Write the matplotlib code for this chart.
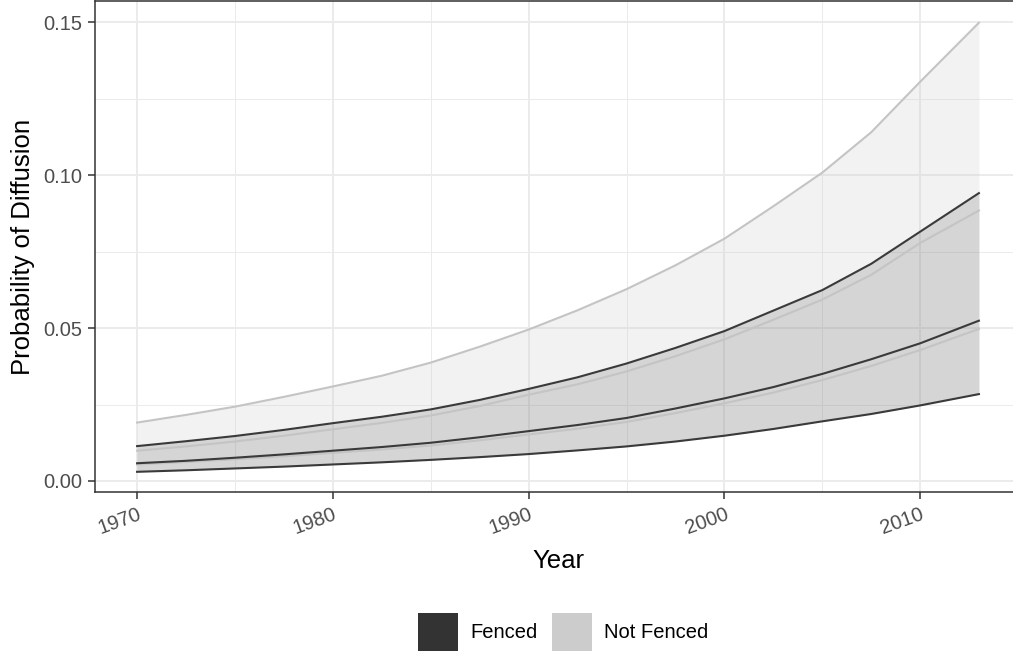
import matplotlib
matplotlib.use("Agg")
import matplotlib.pyplot as plt
from matplotlib.patches import Patch
import numpy as np

plt.rcParams['font.family'] = ['Liberation Sans', 'DejaVu Sans']

# values (every 2.5 years)
years = [1970, 1972.5, 1975, 1977.5, 1980, 1982.5, 1985, 1987.5, 1990,
         1992.5, 1995, 1997.5, 2000, 2002.5, 2005, 2007.5, 2010, 2013]
fenced_lo = [0.0030, 0.0035, 0.0041, 0.0047, 0.0054, 0.0061, 0.0069, 0.0078, 0.0088,
             0.0100, 0.0113, 0.0129, 0.0148, 0.0170, 0.0195, 0.0219, 0.0247, 0.0284]
fenced_mid = [0.0058, 0.0066, 0.0076, 0.0087, 0.0099, 0.0111, 0.0125, 0.0143, 0.0163,
              0.0183, 0.0206, 0.0237, 0.0270, 0.0307, 0.0350, 0.0398, 0.0450, 0.0524]
fenced_hi = [0.0114, 0.0130, 0.0147, 0.0167, 0.0189, 0.0210, 0.0234, 0.0265, 0.0301,
             0.0339, 0.0384, 0.0435, 0.0490, 0.0557, 0.0624, 0.0710, 0.0815, 0.0941]
notfenced_lo = [0.0054, 0.0062, 0.0071, 0.0081, 0.0092, 0.0103, 0.0116, 0.0133, 0.0152,
                0.0171, 0.0193, 0.0222, 0.0254, 0.0289, 0.0330, 0.0376, 0.0428, 0.0497]
notfenced_mid = [0.0099, 0.0113, 0.0129, 0.0148, 0.0169, 0.0190, 0.0214, 0.0245, 0.0282,
                 0.0316, 0.0358, 0.0408, 0.0463, 0.0527, 0.0593, 0.0674, 0.0778, 0.0884]
notfenced_hi = [0.0191, 0.0216, 0.0243, 0.0275, 0.0309, 0.0344, 0.0387, 0.0439, 0.0495,
                0.0558, 0.0627, 0.0705, 0.0792, 0.0898, 0.1008, 0.1140, 0.1305, 0.1498]

labels = ["Fenced", "Not Fenced"]
dark = "#333333"
light = "#cccccc"

fig = plt.figure(figsize=(10.13, 6.55), dpi=100)
ax = fig.add_axes([95 / 1013, 1 - 492 / 655, 926 / 1013, 491 / 655])

# ribbons
ax.fill_between(years, fenced_lo, notfenced_hi, color=light, alpha=0.25, lw=0, zorder=2)
ax.fill_between(years, fenced_lo, fenced_hi, color=dark, alpha=0.15, lw=0, zorder=3)

for s in [notfenced_lo, notfenced_mid, notfenced_hi]:
    ax.plot(years, s, color="#c4c4c4", lw=1.5, zorder=4)
for s in [fenced_lo, fenced_mid, fenced_hi]:
    ax.plot(years, s, color="#3a3a3a", lw=1.5, zorder=5)

ax.set_xlim(1967.85, 2015.15)
ax.set_ylim(-0.0036, 0.1569)
ax.set_xticks([1970, 1980, 1990, 2000, 2010])
ax.set_xticks([1975, 1985, 1995, 2005], minor=True)
ax.set_yticks([0.0, 0.05, 0.10, 0.15])
ax.set_yticks([0.025, 0.075, 0.125], minor=True)
ax.set_yticklabels(["0.00", "0.05", "0.10", "0.15"])

ax.grid(which="major", color="#ebebeb", lw=1.4, zorder=0)
ax.grid(which="minor", color="#ebebeb", lw=0.7, zorder=0)
ax.set_axisbelow(True)

for sp in ax.spines.values():
    sp.set_color("#333333")
    sp.set_linewidth(1.1)

ax.tick_params(which="major", length=5, width=1.1, color="#333333",
               labelcolor="#4d4d4d", labelsize=14.5, pad=4)
ax.tick_params(which="minor", length=0)
for t in ax.get_xticklabels():
    t.set_rotation(20)
    t.set_ha("right")
    t.set_rotation_mode("anchor")

ax.set_xlabel("Year", fontsize=18.5, labelpad=8)
ax.set_ylabel("Probability of Diffusion", fontsize=18.5, labelpad=6)

handles = [Patch(facecolor=dark, edgecolor="none"), Patch(facecolor=light, edgecolor="none")]
fig.legend(handles, labels, loc="center", bbox_to_anchor=(563 / 1013, 1 - 632 / 655),
           ncol=2, frameon=False, fontsize=14.5, handlelength=2.0, handleheight=2.6,
           handletextpad=0.6, columnspacing=0.7)

fig.savefig("out.png", dpi=100)
